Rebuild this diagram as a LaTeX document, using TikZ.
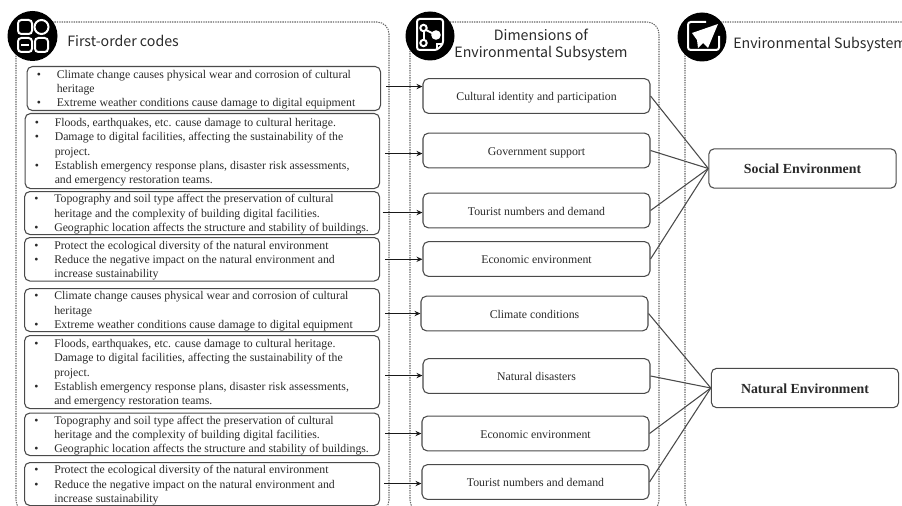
\documentclass[tikz,border=0pt]{standalone}
\usepackage{fontspec}
\setmainfont{Liberation Serif}
\newfontfamily\headfont{Noto Sans CJK KR}
\usetikzlibrary{arrows.meta}
\definecolor{ink}{HTML}{2A2A2A}
\definecolor{edge}{HTML}{4A4A4A}
\newcommand{\bl}[1]{\makebox[15pt][l]{•}#1}
\newcommand{\cl}[1]{\makebox[15pt][l]{}#1}
\tikzset{x=0.75pt,y=-0.75pt,
  panel/.style={draw=edge!85,line width=0.8pt,dash pattern=on 1pt off 0.8pt,rounded corners=9pt},
  codebox/.style={draw=edge,line width=0.8pt,rounded corners=4pt,anchor=north west,inner sep=0pt},
  codetext/.style={anchor=west,inner sep=0pt,font=\fontsize{8.83pt}{10.7pt}\selectfont,text=ink,align=left},
  dimbox/.style={draw=edge,line width=0.8pt,rounded corners=4pt,inner sep=0pt,font=\fontsize{8.85pt}{10pt}\selectfont,text=ink,align=center,text height=9pt,text depth=1.8pt,minimum width=170.25pt,minimum height=26pt},
  subbox/.style={dimbox,minimum width=140.5pt,minimum height=29.5pt,text height=10pt,text depth=2pt,font=\fontsize{10.4pt}{12pt}\bfseries\selectfont},
  head/.style={inner sep=0pt,font=\headfont\fontsize{10.65pt}{12.8pt}\selectfont,text=ink,align=center},
  arr/.style={draw=black!90,line width=0.9pt,-{Stealth[length=4.5pt,width=4pt]}},
  link/.style={draw=edge,line width=0.8pt},
  iconline/.style={draw=white,line width=1.5pt}}
\newcommand{\codenode}[7]{% name, x, y, w, h, text-x offset, body
  \node[codebox,minimum width=#4*0.75pt,minimum height=#5*0.75pt] (#1) at (#2,#3) {};
  \node[codetext] (#1t) at ([xshift=#6*0.75pt,yshift=-0.9pt]#1.west) {#7};}
\begin{document}
\begin{tikzpicture}
\useasboundingbox (0,0) rectangle (902,506);
\clip (0,0) rectangle (902,506);
% panels
\draw[panel] (16,22) rectangle (389,512);
\draw[panel] (410,22) rectangle (659,512);
\draw[panel] (685,22) rectangle (940,512);
% code boxes
\codenode{l1}{26.5}{66}{353.5}{44}{10}{\bl{Climate change causes physical wear and corrosion of cultural}\\\cl{heritage}\\\bl{Extreme weather conditions cause damage to digital equipment}}
\codenode{l2}{24.5}{113}{354.5}{75}{10}{\bl{Floods, earthquakes, etc. cause damage to cultural heritage.}\\\bl{Damage to digital facilities, affecting the sustainability of the}\\\cl{project.}\\\bl{Establish emergency response plans, disaster risk assessments,}\\\cl{and emergency restoration teams.}}
\codenode{l3}{24}{191}{355}{43}{10}{\bl{Topography and soil type affect the preservation of cultural}\\\cl{heritage and the complexity of building digital facilities.}\\\bl{Geographic location affects the structure and stability of buildings.}}
\codenode{l4}{24}{237}{355}{43.5}{10}{\bl{Protect the ecological diversity of the natural environment}\\\bl{Reduce the negative impact on the natural environment and}\\\cl{increase sustainability}}
\codenode{l5}{24}{288}{355}{43}{10}{\bl{Climate change causes physical wear and corrosion of cultural}\\\cl{heritage}\\\bl{Extreme weather conditions cause damage to digital equipment}}
\codenode{l6}{24}{335}{355}{73}{10}{\bl{Floods, earthquakes, etc. cause damage to cultural heritage.}\\\cl{Damage to digital facilities, affecting the sustainability of the}\\\cl{project.}\\\bl{Establish emergency response plans, disaster risk assessments,}\\\cl{and emergency restoration teams.}}
\codenode{l7}{24}{412.5}{355}{42.5}{10}{\bl{Topography and soil type affect the preservation of cultural}\\\cl{heritage and the complexity of building digital facilities.}\\\bl{Geographic location affects the structure and stability of buildings.}}
\codenode{l8}{24}{462}{355}{43}{10}{\bl{Protect the ecological diversity of the natural environment}\\\bl{Reduce the negative impact on the natural environment and}\\\cl{increase sustainability}}
% dimension boxes
\node[dimbox] (m1) at (536.5,96) {Cultural identity and participation};
\node[dimbox] (m2) at (536.5,150.5) {Government support};
\node[dimbox] (m3) at (536.5,210.5) {Tourist numbers and demand};
\node[dimbox] (m4) at (536.5,259) {Economic environment};
\node[dimbox] (m5) at (534.5,313.5) {Climate conditions};
\node[dimbox] (m6) at (536.5,376) {Natural disasters};
\node[dimbox] (m7) at (535.5,433.5) {Economic environment};
\node[dimbox] (m8) at (535.5,482) {Tourist numbers and demand};
% subsystem boxes
\node[subbox] (s1) at (802.5,168.5) {Social Environment};
\node[subbox] (s2) at (805,388) {Natural Environment};
% arrows
\draw[arr] ([shift={(5,-2)}]l1.east) coordinate (a1) -- (a1 -| m1.west);
\draw[arr] ([shift={(5,2.5)}]l2.east) coordinate (a2) -- (a2 -| m2.west);
\draw[arr] ([shift={(2.5,-0.5)}]l3.east) coordinate (a3) -- (a3 -| m3.west);
\draw[arr] ([shift={(5,0)}]l4.east) coordinate (a4) -- (a4 -| m4.west);
\draw[arr] ([shift={(5,3.5)}]l5.east) coordinate (a5) -- (a5 -| m5.west);
\draw[arr] ([shift={(5,3.5)}]l6.east) coordinate (a6) -- (a6 -| m6.west);
\draw[arr] ([shift={(5,-0.75)}]l7.east) coordinate (a7) -- (a7 -| m7.west);
\draw[arr] ([shift={(4,-0.5)}]l8.east) coordinate (a8) -- (a8 -| m8.west);
% links
\draw[link] (m1.east) -- (s1.west);
\draw[link] (m2.east) -- (s1.west);
\draw[link] (m3.east) -- (s1.west);
\draw[link] (m4.east) -- (s1.west);
\draw[link] (m5.east) -- (s2.west);
\draw[link] (m6.east) -- (s2.west);
\draw[link] (m7.east) -- (s2.west);
\draw[link] (m8.east) -- (s2.west);
% headings
\node[head,anchor=west] (h1) at (67,41) {First-order codes};
\node[head] (h2) at (541,44.5) {Dimensions of\\Environmental Subsystem};
\node[head,anchor=west] (h3) at (733,45) {Environmental Subsystem};
% icon 1
\fill[black] (32.5,36) circle (25);
\draw[iconline,rounded corners=2.5pt] (18,20) rectangle (32,34);
\draw[iconline] (41.5,27) circle (7);
\draw[iconline,rounded corners=2.5pt] (18,38) rectangle (32,52);
\draw[iconline] (21,45) -- (29,45);
\draw[iconline,rounded corners=2.5pt] (35,38) rectangle (48,52);
% icon 2
\fill[black] (430,36) circle (24.5);
\draw[iconline,rounded corners=2pt] (417,19) -- (443,19) -- (443,44) -- (437,50) -- (417,50) -- cycle;
\draw[iconline] (437,50) -- (437,44) -- (443,44);
\draw[iconline] (423.5,28) circle (3.2);
\draw[iconline] (423.5,43) circle (3.2);
\fill[white] (436,35) circle (4.8);
\draw[iconline] (426,30) -- (433,33.5);
\draw[iconline] (423.5,31) -- (423.5,40);
% icon 3
\fill[black] (702,37) circle (24.5);
\draw[iconline,rounded corners=2pt] (706,22) -- (688,22) -- (688,50) -- (719,50) -- (719,36);
\fill[white] (718,24) -- (692,33) -- (697,40) -- (698,48) -- (703,43) -- (708,48) -- cycle;
\end{tikzpicture}
\end{document}
